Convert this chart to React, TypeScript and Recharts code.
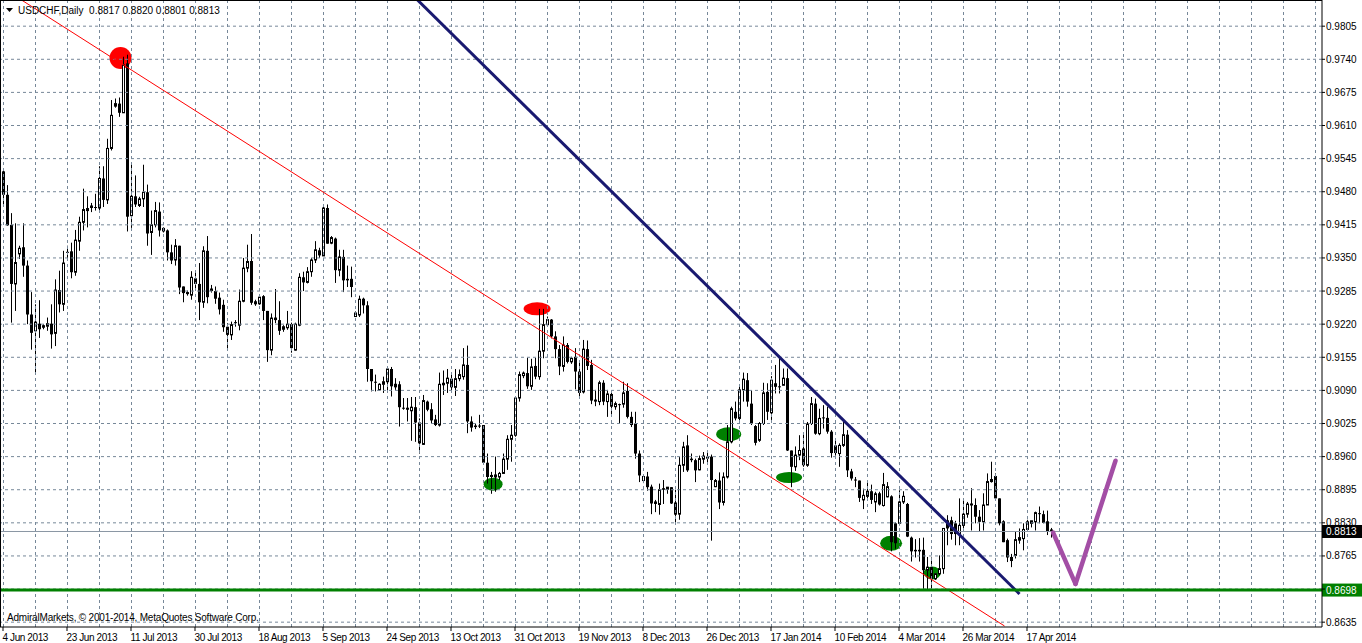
import React from "react";
import { Bar, ComposedChart, ReferenceDot, ReferenceLine, XAxis, YAxis } from "recharts";

// USDCHF daily candles, 4 Jun 2013 .. 24 Apr 2014 (bar index = trading day)
const opens = [
  0.952, 0.9474, 0.9415, 0.9299, 0.9358, 0.9371, 0.9335, 0.9239, 0.9207, 0.9221,
  0.9218, 0.9216, 0.9221, 0.9202, 0.9287, 0.9259, 0.9362, 0.9363, 0.9322, 0.9383,
  0.942, 0.9448, 0.9453, 0.945, 0.9448, 0.9506, 0.9464, 0.9565, 0.9648, 0.9653,
  0.9635, 0.9732, 0.9433, 0.9471, 0.9453, 0.9466, 0.9479, 0.94, 0.9415, 0.9441,
  0.9409, 0.9404, 0.9361, 0.9346, 0.9374, 0.9294, 0.9283, 0.9277, 0.931, 0.9299,
  0.9263, 0.9364, 0.929, 0.9285, 0.9272, 0.9258, 0.9215, 0.9199, 0.9222, 0.9218,
  0.9265, 0.933, 0.9344, 0.9265, 0.926, 0.9275, 0.9246, 0.9169, 0.9233, 0.9228,
  0.921, 0.9213, 0.922, 0.9169, 0.9218, 0.9312, 0.9302, 0.9323, 0.9346, 0.9365,
  0.9354, 0.9448, 0.9379, 0.9388, 0.9326, 0.9352, 0.9309, 0.9309, 0.9235, 0.9238,
  0.927, 0.9257, 0.9132, 0.9106, 0.9091, 0.9102, 0.9107, 0.9132, 0.9103, 0.9102,
  0.9056, 0.9056, 0.905, 0.9057, 0.9027, 0.8984, 0.9068, 0.9053, 0.9033, 0.9022,
  0.9101, 0.9104, 0.9113, 0.9096, 0.9113, 0.9117, 0.914, 0.9029, 0.9021, 0.9021,
  0.9022, 0.8948, 0.8924, 0.892, 0.892, 0.8927, 0.8955, 0.8994, 0.9002, 0.9075,
  0.9119, 0.9124, 0.9098, 0.9138, 0.9117, 0.9167, 0.9219, 0.9229, 0.9196, 0.9171,
  0.9137, 0.9179, 0.9146, 0.9156, 0.9127, 0.9087, 0.9171, 0.914, 0.9072, 0.9068,
  0.9105, 0.9068, 0.9083, 0.9058, 0.9063, 0.9063, 0.9089, 0.9038, 0.9025, 0.8966,
  0.8913, 0.8921, 0.8901, 0.8872, 0.8866, 0.8898, 0.8896, 0.89, 0.887, 0.8847,
  0.8943, 0.8982, 0.8956, 0.8953, 0.8934, 0.8955, 0.896, 0.896, 0.8901, 0.8913,
  0.887, 0.892, 0.8989, 0.9048, 0.9035, 0.9091, 0.911, 0.9064, 0.902, 0.8992,
  0.9025, 0.9087, 0.9046, 0.9104, 0.9098, 0.91, 0.9114, 0.8972, 0.894, 0.8963,
  0.8976, 0.8943, 0.9025, 0.9064, 0.9005, 0.9036, 0.9036, 0.9009, 0.8982, 0.8966,
  0.8982, 0.9003, 0.8931, 0.8915, 0.8913, 0.8875, 0.8882, 0.8892, 0.8871, 0.8888,
  0.8864, 0.8881, 0.8882, 0.8829, 0.8829, 0.8871, 0.8867, 0.8801, 0.8777, 0.8777,
  0.8777, 0.8737, 0.8743, 0.872, 0.873, 0.874, 0.8835, 0.8835, 0.8829, 0.8808,
  0.8825, 0.8847, 0.8865, 0.8865, 0.8842, 0.8832, 0.8865, 0.8911, 0.8922, 0.8878,
  0.8833, 0.8796, 0.8763, 0.8766, 0.8796, 0.8799, 0.8817, 0.8829, 0.8832, 0.8849,
  0.8847, 0.8833, 0.8817,
];
const highs = [
  0.9523, 0.9493, 0.9438, 0.9418, 0.9374, 0.9418, 0.9345, 0.9283, 0.9259, 0.9267,
  0.922, 0.9233, 0.9259, 0.9308, 0.9325, 0.9364, 0.9374, 0.938, 0.9405, 0.9431,
  0.9486, 0.9471, 0.9458, 0.9476, 0.953, 0.953, 0.9584, 0.966, 0.9663, 0.9665,
  0.9745, 0.9749, 0.9533, 0.9512, 0.947, 0.9533, 0.9494, 0.9443, 0.946, 0.9459,
  0.941, 0.9406, 0.9376, 0.9387, 0.9374, 0.9294, 0.9286, 0.9324, 0.9322, 0.934,
  0.9373, 0.9393, 0.9297, 0.9294, 0.9282, 0.9268, 0.9222, 0.9225, 0.9228, 0.9288,
  0.935, 0.9376, 0.9397, 0.9268, 0.9277, 0.9277, 0.9246, 0.9241, 0.9289, 0.9265,
  0.9218, 0.9246, 0.9223, 0.9223, 0.932, 0.9323, 0.9332, 0.935, 0.9383, 0.937,
  0.9455, 0.9455, 0.9393, 0.939, 0.9366, 0.9366, 0.9335, 0.9333, 0.9245, 0.9276,
  0.9272, 0.9265, 0.9132, 0.9121, 0.9104, 0.9117, 0.9136, 0.9136, 0.9114, 0.9108,
  0.9075, 0.9075, 0.9077, 0.9077, 0.9035, 0.9081, 0.907, 0.9065, 0.9042, 0.9125,
  0.9129, 0.9132, 0.9124, 0.9132, 0.9131, 0.9173, 0.9178, 0.9039, 0.9025, 0.9042,
  0.9022, 0.8966, 0.893, 0.896, 0.893, 0.8966, 0.9002, 0.9022, 0.9077, 0.9127,
  0.9127, 0.9154, 0.9152, 0.9154, 0.925, 0.925, 0.9235, 0.923, 0.9206, 0.9179,
  0.9196, 0.9183, 0.9156, 0.9173, 0.9146, 0.9189, 0.9188, 0.915, 0.9091, 0.9109,
  0.911, 0.9091, 0.9087, 0.9068, 0.9064, 0.9107, 0.9104, 0.9048, 0.9048, 0.8972,
  0.8923, 0.893, 0.8905, 0.8875, 0.8907, 0.8914, 0.89, 0.89, 0.8895, 0.8959,
  0.8989, 0.9002, 0.8966, 0.8956, 0.8962, 0.8969, 0.8969, 0.8964, 0.8916, 0.8929,
  0.8929, 0.9022, 0.9058, 0.9068, 0.9097, 0.9125, 0.9124, 0.909, 0.9022, 0.9028,
  0.9105, 0.9104, 0.9118, 0.914, 0.9153, 0.9133, 0.9133, 0.8972, 0.898, 0.9002,
  0.9005, 0.9028, 0.9077, 0.9074, 0.9054, 0.9061, 0.9058, 0.9012, 0.8992, 0.8986,
  0.9028, 0.9012, 0.8936, 0.892, 0.8913, 0.8897, 0.891, 0.8905, 0.8891, 0.8891,
  0.8928, 0.891, 0.8884, 0.8831, 0.8894, 0.8892, 0.8869, 0.8803, 0.8798, 0.88,
  0.8801, 0.8763, 0.8762, 0.8731, 0.8766, 0.8819, 0.8845, 0.8842, 0.8834, 0.8878,
  0.8875, 0.8871, 0.8898, 0.8878, 0.8855, 0.8888, 0.8927, 0.895, 0.8927, 0.8878,
  0.8835, 0.8799, 0.8769, 0.8812, 0.8819, 0.8829, 0.8836, 0.8834, 0.8852, 0.8862,
  0.8854, 0.8854, 0.882,
];
const lows = [
  0.945, 0.9413, 0.9223, 0.9246, 0.9348, 0.9313, 0.922, 0.917, 0.9124, 0.9193,
  0.921, 0.9207, 0.9172, 0.9177, 0.9243, 0.9246, 0.9345, 0.931, 0.9315, 0.9364,
  0.9404, 0.941, 0.944, 0.9443, 0.9443, 0.945, 0.9456, 0.9561, 0.9645, 0.9627,
  0.9635, 0.9402, 0.9409, 0.945, 0.945, 0.945, 0.9374, 0.9356, 0.941, 0.9392,
  0.94, 0.9345, 0.9338, 0.9335, 0.9279, 0.9263, 0.9276, 0.9268, 0.9289, 0.9228,
  0.9252, 0.9261, 0.9282, 0.926, 0.9239, 0.9205, 0.9173, 0.9189, 0.9215, 0.9208,
  0.9263, 0.9322, 0.9258, 0.9256, 0.9258, 0.9228, 0.9146, 0.9159, 0.9222, 0.9199,
  0.9205, 0.9209, 0.9164, 0.9168, 0.9216, 0.9285, 0.93, 0.9313, 0.934, 0.935,
  0.9354, 0.9378, 0.9377, 0.9301, 0.9314, 0.9283, 0.9293, 0.9273, 0.9234, 0.9234,
  0.9241, 0.9107, 0.9088, 0.9088, 0.909, 0.9085, 0.9085, 0.9078, 0.9091, 0.9019,
  0.9052, 0.9029, 0.8991, 0.8989, 0.8966, 0.8983, 0.9049, 0.9026, 0.902, 0.9019,
  0.9081, 0.9085, 0.9086, 0.9079, 0.9108, 0.9111, 0.9006, 0.9009, 0.9014, 0.9016,
  0.8948, 0.8907, 0.8887, 0.8891, 0.8914, 0.8926, 0.8934, 0.895, 0.8999, 0.9068,
  0.9114, 0.9093, 0.9091, 0.9112, 0.9111, 0.9153, 0.9215, 0.9192, 0.9153, 0.912,
  0.9127, 0.9143, 0.9142, 0.9092, 0.9077, 0.9084, 0.913, 0.9063, 0.9059, 0.9061,
  0.9061, 0.9038, 0.9038, 0.9052, 0.9026, 0.9056, 0.9035, 0.9018, 0.8956, 0.891,
  0.8908, 0.8893, 0.8847, 0.8851, 0.8846, 0.8867, 0.8887, 0.8867, 0.8829, 0.8836,
  0.893, 0.893, 0.8949, 0.891, 0.8933, 0.8946, 0.8949, 0.8795, 0.89, 0.8857,
  0.8864, 0.8917, 0.8986, 0.9031, 0.9031, 0.9068, 0.9058, 0.9022, 0.8982, 0.8989,
  0.9022, 0.9032, 0.9032, 0.9084, 0.9084, 0.91, 0.8971, 0.89, 0.8932, 0.8953,
  0.894, 0.894, 0.9022, 0.9003, 0.9002, 0.9015, 0.9005, 0.8958, 0.8962, 0.894,
  0.8979, 0.892, 0.8913, 0.89, 0.8871, 0.8857, 0.8874, 0.8867, 0.8851, 0.8864,
  0.8862, 0.888, 0.8774, 0.8779, 0.8825, 0.8867, 0.8802, 0.8754, 0.8762, 0.8754,
  0.87, 0.87, 0.8702, 0.8718, 0.8727, 0.873, 0.8786, 0.8797, 0.8786, 0.8786,
  0.8819, 0.884, 0.8815, 0.8829, 0.8812, 0.8815, 0.8865, 0.8909, 0.8875, 0.8825,
  0.8792, 0.8753, 0.8743, 0.876, 0.8789, 0.8776, 0.8812, 0.8821, 0.8815, 0.8829,
  0.8829, 0.8806, 0.8801,
];
const closes = [
  0.9474, 0.9414, 0.9299, 0.9341, 0.9369, 0.9335, 0.9239, 0.9203, 0.9224, 0.921,
  0.9213, 0.9221, 0.92, 0.9287, 0.9259, 0.934, 0.9361, 0.9322, 0.9385, 0.942,
  0.9445, 0.9442, 0.9448, 0.9449, 0.9506, 0.9464, 0.9565, 0.963, 0.9653, 0.9635,
  0.9729, 0.9431, 0.9471, 0.9455, 0.9466, 0.9479, 0.9398, 0.9415, 0.9443, 0.9404,
  0.9402, 0.9361, 0.9345, 0.9374, 0.9292, 0.9281, 0.9279, 0.9312, 0.9299, 0.9263,
  0.9364, 0.9273, 0.9285, 0.927, 0.9249, 0.9214, 0.9199, 0.9219, 0.9223, 0.9265,
  0.933, 0.9343, 0.9262, 0.9259, 0.9273, 0.9246, 0.9169, 0.9232, 0.9228, 0.9207,
  0.9215, 0.922, 0.9173, 0.922, 0.9312, 0.9302, 0.9323, 0.9346, 0.9366, 0.9355,
  0.9448, 0.9378, 0.939, 0.9326, 0.9352, 0.9306, 0.9306, 0.9293, 0.9242, 0.9269,
  0.9257, 0.9132, 0.9108, 0.9106, 0.9102, 0.9107, 0.9132, 0.9098, 0.9096, 0.9057,
  0.9055, 0.9052, 0.9057, 0.9027, 0.8986, 0.907, 0.9052, 0.9031, 0.9022, 0.9102,
  0.9104, 0.9114, 0.9096, 0.9113, 0.9121, 0.914, 0.9029, 0.9017, 0.9018, 0.9019,
  0.8948, 0.892, 0.892, 0.8924, 0.8927, 0.8955, 0.8994, 0.9002, 0.9075, 0.9121,
  0.9124, 0.9098, 0.9136, 0.9117, 0.9167, 0.9219, 0.9229, 0.9196, 0.9171, 0.9137,
  0.9179, 0.9146, 0.9153, 0.9127, 0.9085, 0.9171, 0.9138, 0.907, 0.9068, 0.9105,
  0.9068, 0.9083, 0.9058, 0.9064, 0.9062, 0.9085, 0.9038, 0.9022, 0.8966, 0.8923,
  0.8921, 0.89, 0.8868, 0.8867, 0.8895, 0.8895, 0.89, 0.8868, 0.8846, 0.8943,
  0.8979, 0.8933, 0.8953, 0.8933, 0.8956, 0.8961, 0.8956, 0.8914, 0.8913, 0.887,
  0.892, 0.8989, 0.9054, 0.9035, 0.9091, 0.9112, 0.9068, 0.9025, 0.8987, 0.9025,
  0.9085, 0.9048, 0.911, 0.9097, 0.9097, 0.9114, 0.8972, 0.894, 0.8963, 0.8972,
  0.8943, 0.9024, 0.9064, 0.9005, 0.9035, 0.9036, 0.9009, 0.8967, 0.8967, 0.8982,
  0.9003, 0.8933, 0.8917, 0.8913, 0.8879, 0.8884, 0.8892, 0.8875, 0.8887, 0.8866,
  0.8905, 0.8901, 0.8792, 0.879, 0.8871, 0.8882, 0.8803, 0.8774, 0.8774, 0.8774,
  0.8737, 0.8743, 0.872, 0.873, 0.874, 0.8819, 0.8819, 0.8808, 0.8808, 0.8825,
  0.8847, 0.8867, 0.8867, 0.8842, 0.8832, 0.8865, 0.8911, 0.8915, 0.8878, 0.8829,
  0.8792, 0.8762, 0.8755, 0.8797, 0.8801, 0.8817, 0.8832, 0.8834, 0.885, 0.8848,
  0.883, 0.8813, 0.8813,
];

const dateTickBars = [0, 16, 32, 48, 64, 80, 96, 112, 128, 144, 160, 176, 192, 208, 224, 240, 256];
const dateLabels = [
  "4 Jun 2013", "23 Jun 2013", "11 Jul 2013", "30 Jul 2013", "18 Aug 2013", "5 Sep 2013",
  "24 Sep 2013", "13 Oct 2013", "31 Oct 2013", "19 Nov 2013", "8 Dec 2013", "26 Dec 2013",
  "17 Jan 2014", "10 Feb 2014", "4 Mar 2014", "26 Mar 2014", "17 Apr 2014",
];
const priceTicks = [
  0.9805, 0.974, 0.9675, 0.961, 0.9545, 0.948, 0.9415, 0.935, 0.9285, 0.922,
  0.9155, 0.909, 0.9025, 0.896, 0.8895, 0.883, 0.8765, 0.87, 0.8635,
];

const bidPrice = 0.8813;
const supportPrice = 0.8698;

// drawn objects, as (bar, price)
const redTrend = [{ x: 4.5, y: 0.98564 }, { x: 250.25, y: 0.86275 }];
const navyTrend = [{ x: 103.5, y: 0.98564 }, { x: 254, y: 0.86903 }];
const purplePath = [{ x: 262.4, y: 0.88107 }, { x: 268, y: 0.871 }, { x: 278, y: 0.8952 }];
const redMarks = [{ x: 29.25, y: 0.97425 }, { x: 133.4, y: 0.92502 }];
const greenMarks = [
  { x: 122.4, y: 0.89059 },
  { x: 181.3, y: 0.90038 },
  { x: 196.4, y: 0.8919 },
  { x: 221.9, y: 0.879 },
  { x: 232.2, y: 0.87315 },
];

const redMarkSize = [[11, 11], [13.5, 6.5]];
const greenMarkSize = [[9.5, 6.5], [12.5, 7], [13, 5.5], [11, 7.5], [8.5, 6.5]];

const W = 1362;
const H = 643;
const PLOT_W = 1322;
const PLOT_H = 627;
const X_MIN = -0.875;
const X_MAX = X_MIN + PLOT_W / 4;
const Y_MIN = 0.86255;
const Y_MAX = 0.98564;

const FONT = "'Liberation Sans', Arial, sans-serif";
const GRID = "#778899";

const candles = opens.map((o, i) => ({
  bar: i,
  open: o,
  high: highs[i],
  low: lows[i],
  close: closes[i],
  range: [lows[i], highs[i]],
}));

const gridBars: number[] = [];
for (let b = 0; b <= X_MAX; b += 8) gridBars.push(b);

function Candle(props: any) {
  const { x, y, width, height, payload } = props;
  if (!payload) return null;
  const { open, high, low, close } = payload;
  const top = Math.min(y, y + height);
  const h = Math.abs(height);
  const span = high - low || 1e-9;
  const yAt = (v: number) => top + ((high - v) / span) * h;
  const cx = Math.floor(x + width / 2) + 0.5;
  const yo = yAt(open);
  const yc = yAt(close);
  const bTop = Math.min(yo, yc);
  const bH = Math.abs(yc - yo);
  return (
    <g>
      <line x1={cx} x2={cx} y1={top} y2={top + h} stroke="#000" strokeWidth={1} />
      {bH < 1 ? (
        <line x1={cx - 1.5} x2={cx + 1.5} y1={yc} y2={yc} stroke="#000" strokeWidth={1} />
      ) : close >= open ? (
        <rect x={cx - 1} y={bTop} width={2} height={bH} fill="#fff" stroke="#000" strokeWidth={1} />
      ) : (
        <rect x={cx - 1.5} y={bTop} width={3} height={bH} fill="#000" />
      )}
    </g>
  );
}

function DateTick(props: any) {
  const { x, y, payload } = props;
  const idx = dateTickBars.indexOf(payload.value);
  return (
    <g>
      <line x1={x - 0.5} x2={x - 0.5} y1={PLOT_H} y2={PLOT_H + 4} stroke="#000" />
      <text x={x - 1} y={y + 6} fontSize={10} fontFamily={FONT} letterSpacing={-0.4} fill="#000" textAnchor="start">
        {idx >= 0 ? dateLabels[idx] : ""}
      </text>
    </g>
  );
}

function PriceTick(props: any) {
  const { y, payload } = props;
  // the 0.8700 level sits under the support-line tag, as in the terminal
  const hidden = Math.abs(payload.value - supportPrice) < 0.0005;
  return (
    <g>
      <line x1={PLOT_W} x2={PLOT_W + 3} y1={y} y2={y} stroke="#000" />
      {!hidden && (
        <text x={PLOT_W + 4} y={y + 3.5} fontSize={10} fontFamily={FONT} fill="#000">
          {payload.value.toFixed(4)}
        </text>
      )}
    </g>
  );
}

function priceTag(text: string, fill: string) {
  return (props: any) => {
    const vb = props.viewBox || {};
    const yy = vb.y ?? 0;
    return (
      <g>
        <rect x={PLOT_W} y={yy - 6.5} width={W - PLOT_W} height={13} fill={fill} />
        <text x={PLOT_W + 4} y={yy + 3.5} fontSize={10} fontFamily={FONT} fill="#fff">
          {text}
        </text>
      </g>
    );
  };
}

export default function App() {
  return (
    <div style={{ position: "absolute", left: 0, top: 0, width: W, height: H, background: "#fff" }}>
      <ComposedChart
        width={W}
        height={H}
        data={candles}
        margin={{ top: 0, right: 0, bottom: 0, left: 0 }}
      >
        <XAxis
          dataKey="bar"
          type="number"
          domain={[X_MIN, X_MAX]}
          allowDataOverflow
          ticks={dateTickBars}
          interval={0}
          height={H - PLOT_H}
          axisLine={{ stroke: "#000" }}
          tickLine={false}
          tick={<DateTick />}
        />
        <YAxis
          orientation="right"
          type="number"
          domain={[Y_MIN, Y_MAX]}
          allowDataOverflow
          ticks={priceTicks}
          interval={0}
          width={W - PLOT_W}
          axisLine={{ stroke: "#000" }}
          tickLine={false}
          tick={<PriceTick />}
        />
        {priceTicks.map((p) => (
          <ReferenceLine key={"h" + p} y={p} stroke={GRID} strokeDasharray="3 3" />
        ))}
        {gridBars.map((b) => (
          <ReferenceLine key={"v" + b} x={b} stroke={GRID} strokeDasharray="3 3" />
        ))}
        <ReferenceLine y={bidPrice} stroke="#8a96a3" strokeWidth={1} label={priceTag("0.8813", "#000")} />
        {redMarks.map((m, i) => (
          <ReferenceDot
            key={"r" + i}
            x={m.x}
            y={m.y}
            r={1}
            zIndex={250}
            shape={(p: any) => (
              <ellipse cx={p.cx} cy={p.cy} rx={redMarkSize[i][0]} ry={redMarkSize[i][1]} fill="#ff0000" />
            )}
          />
        ))}
        {greenMarks.map((m, i) => (
          <ReferenceDot
            key={"g" + i}
            x={m.x}
            y={m.y}
            r={1}
            zIndex={250}
            shape={(p: any) => (
              <ellipse cx={p.cx} cy={p.cy} rx={greenMarkSize[i][0]} ry={greenMarkSize[i][1]} fill="#008000" />
            )}
          />
        ))}
        <ReferenceLine segment={redTrend} stroke="#ff0000" strokeWidth={1} ifOverflow="visible" />
        <ReferenceLine segment={navyTrend} stroke="#191970" strokeWidth={3} ifOverflow="visible" />
        <Bar dataKey="range" barSize={3} shape={<Candle />} isAnimationActive={false} />
        <ReferenceLine segment={[purplePath[0], purplePath[1]]} stroke="#a34ea5" strokeWidth={4.5} strokeLinecap="round" ifOverflow="visible" />
        <ReferenceLine segment={[purplePath[1], purplePath[2]]} stroke="#a34ea5" strokeWidth={4.5} strokeLinecap="round" ifOverflow="visible" />
        <ReferenceLine y={supportPrice} stroke="#008000" strokeWidth={3} label={priceTag("0.8698", "#008000")} />
      </ComposedChart>
      <svg width={W} height={H} style={{ position: "absolute", left: 0, top: 0, pointerEvents: "none" }}>
        <line x1={0.5} x2={0.5} y1={0} y2={PLOT_H} stroke="#000" />
        <line x1={0} x2={PLOT_W} y1={0.5} y2={0.5} stroke="#000" />
        <path d="M6 8 L13 8 L9.5 12 Z" fill="#000" />
        <text x={18} y={13.5} fontSize={10} fontFamily={FONT} fill="#000" style={{ whiteSpace: "pre" }}>
          {"USDCHF,Daily  0.8817 0.8820 0.8801 0.8813"}
        </text>
        <text x={7} y={621} fontSize={10} fontFamily={FONT} letterSpacing={-0.2} fill="#000">
          AdmiralMarkets, © 2001-2014, MetaQuotes Software Corp.
        </text>
      </svg>
    </div>
  );
}
